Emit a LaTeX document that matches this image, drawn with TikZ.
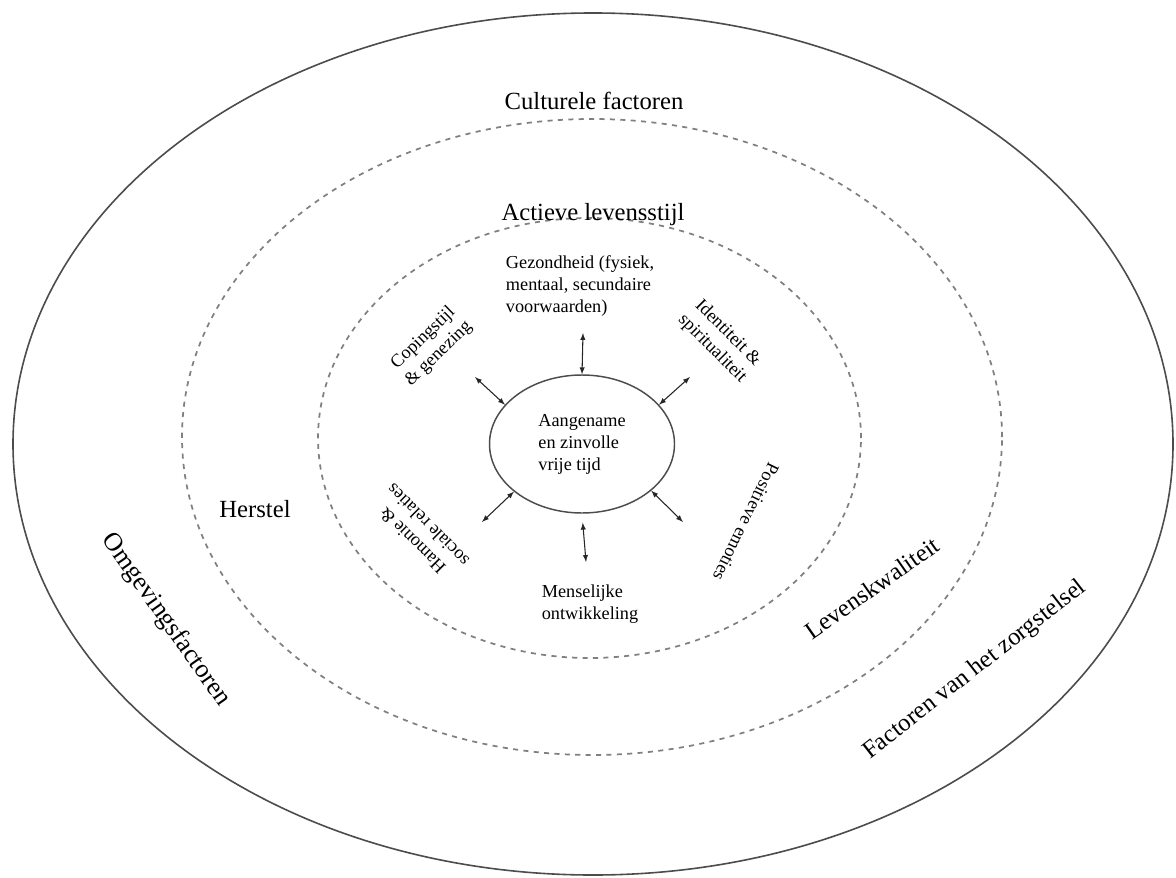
\documentclass[tikz,border=0pt]{standalone}
\usepackage{fontspec}
\setmainfont{Liberation Serif}
\usetikzlibrary{positioning}
\usetikzlibrary{shapes.geometric}
\tikzset{
  ring/.style={draw=black!70, line width=1.2pt},
  dashring/.style={draw=black!50, line width=1.3pt, dash pattern=on 3.8pt off 4pt},
  biglabel/.style={font=\fontsize{18.5}{22}\selectfont, align=center},
  smalllabel/.style={font=\fontsize{13.7}{16.5}\selectfont, align=center},
  twoway/.style={latex-latex, thick, black!85},
}

\begin{document}
\begin{tikzpicture}[x=0.75pt, y=-0.75pt]
  \useasboundingbox (0,0) rectangle (1176,877);

  % rings
  \draw[ring] (593,444) ellipse [x radius=435pt, y radius=323.25pt];
  \draw[dashring] (592,437) ellipse [x radius=307.5pt, y radius=238.5pt];
  \draw[dashring] (589.5,438) ellipse [x radius=203.6pt, y radius=165pt];

  % centre
  \node[ellipse, draw=black!70, line width=1.1pt, minimum width=138.75pt, minimum height=103.5pt, inner sep=0pt, smalllabel, align=left] (leisure) at (582,444) {Aangename\\en zinvolle\\vrije tijd};

  % ring labels
  \node[biglabel] (culture) at (594,101) {Culturele factoren};
  \node[biglabel] (active) at (593,215) {Actieve levensstijl};
  \node[biglabel] (recovery) at (255,509) {Herstel};
  \node[biglabel, rotate=35] (quality) at (872,588) {Levenskwaliteit};
  \node[biglabel, rotate=38] (care) at (975,670) {Factoren van het zorgstelsel};
  \node[biglabel, font=\fontsize{19.5}{22}\selectfont, rotate=-55] (environment) at (166,620) {Omgevingsfactoren};

  % domain labels
  \node[smalllabel, align=left] (health) at (580,286) {Gezondheid (fysiek,\\mentaal, secundaire\\voorwaarden)};
  \node[smalllabel, rotate=44] (coping) at (431,346) {Copingstijl\\\& genezing};
  \node[smalllabel, rotate=-45] (identity) at (720,341) {Identiteit \&\\spiritualiteit};
  \node[smalllabel, rotate=135] (harmony) at (420,533) {Hamonie \&\\sociale relaties};
  \node[smalllabel, rotate=-116] (emotions) at (746,522) {Positieve emoties};
  \node[smalllabel, align=left] (growth) at (590,604) {Menselijke\\ontwikkeling};

  % arrow ends
  \coordinate (n_end) at (583,333);
  \coordinate (nw_end) at (475,377);
  \coordinate (ne_end) at (690,377);
  \coordinate (sw_end) at (482,522);
  \coordinate (se_end) at (683,522);
  \coordinate (s_end) at (586,562);

  \path[twoway] (leisure.90) edge (n_end);
  \path[twoway] (leisure.153) edge (nw_end);
  \path[twoway] (leisure.27) edge (ne_end);
  \path[twoway] (leisure.215) edge (sw_end);
  \path[twoway] (leisure.326) edge (se_end);
  \path[twoway, shorten <=6.75pt] (leisure.270) edge (s_end);
\end{tikzpicture}
\end{document}
